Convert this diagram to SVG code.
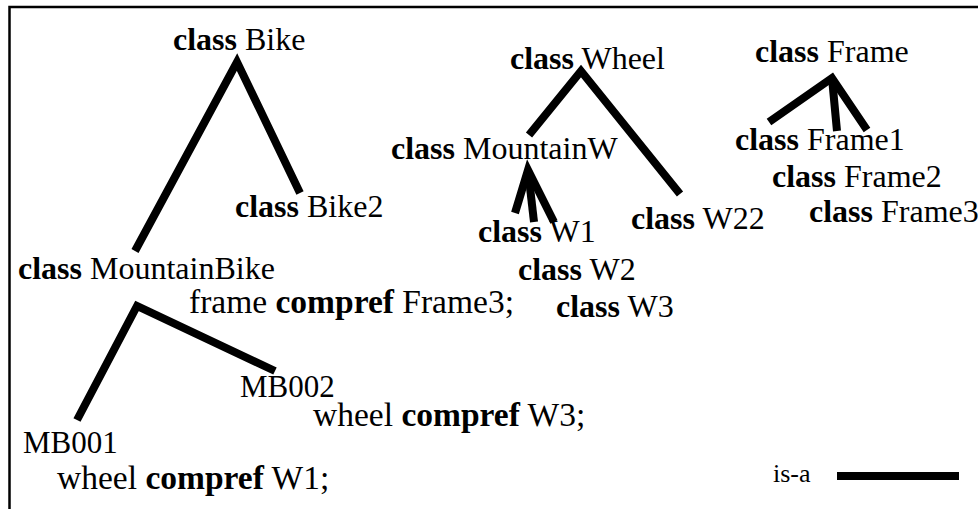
<svg xmlns="http://www.w3.org/2000/svg" width="978" height="509" viewBox="0 0 978 509">
<style>
.t{font-size:32px;fill:#000}
.b{font-weight:bold}
.c{font-size:33.5px}
.m{font-size:31px}
.isa{stroke:#000;stroke-width:8;fill:none;stroke-linecap:butt;stroke-linejoin:miter}
.frame{stroke:#000;stroke-width:2.5;fill:none}
</style>
<rect x="0" y="0" width="978" height="509" fill="#fff"/>
<path class="frame" d="M9.5 509 V7 H978"/>
<g id="connectors">
<polyline class="isa" points="135,251 237,62 300,193"/>
<polyline class="isa" points="77,420 137,306 275,371"/>
<polyline class="isa" points="529,135 581,71 680,194"/>
<polyline class="isa" points="515,213 528,170 554,222"/>
<line class="isa" x1="528" y1="170" x2="534" y2="222"/>
<polyline class="isa" points="769,122 832,78 867,130"/>
<line class="isa" x1="832" y1="78" x2="837" y2="131"/>
</g>
<g class="t" font-family="Liberation Serif, Tinos, Times New Roman, serif">
<g id="Bike"><text x="173" y="50"><tspan class="b">class</tspan> Bike</text></g>
<g id="Bike2"><text x="235" y="217"><tspan class="b">class</tspan> Bike2</text></g>
<g id="MountainBike"><text x="18" y="279"><tspan class="b">class</tspan> MountainBike</text>
<text class="c" x="189" y="313">frame <tspan class="b">compref</tspan> Frame3;</text></g>
<g id="MB002"><text class="m" x="240" y="397">MB002</text>
<text class="c" x="313" y="426">wheel <tspan class="b">compref</tspan> W3;</text></g>
<g id="MB001"><text class="m" x="23" y="453">MB001</text>
<text class="c" x="57" y="489">wheel <tspan class="b">compref</tspan> W1;</text></g>
<g id="Wheel"><text x="510" y="69"><tspan class="b">class</tspan> Wheel</text></g>
<g id="MountainW"><text x="391" y="159"><tspan class="b">class</tspan> MountainW</text></g>
<g id="W1"><text x="478" y="242"><tspan class="b">class</tspan> W1</text></g>
<g id="W2"><text x="518" y="280"><tspan class="b">class</tspan> W2</text></g>
<g id="W3"><text x="556" y="317"><tspan class="b">class</tspan> W3</text></g>
<g id="W22"><text x="631" y="229"><tspan class="b">class</tspan> W22</text></g>
<g id="Frame"><text x="755" y="62"><tspan class="b">class</tspan> Frame</text></g>
<g id="Frame1"><text x="735" y="150"><tspan class="b">class</tspan> Frame1</text></g>
<g id="Frame2"><text x="772" y="187"><tspan class="b">class</tspan> Frame2</text></g>
<g id="Frame3"><text x="809" y="222"><tspan class="b">class</tspan> Frame3</text></g>
<g id="legend"><text x="773" y="482" font-size="26">is-a</text>
<line class="isa" x1="837" y1="476" x2="959" y2="476"/></g>
</g>
</svg>
